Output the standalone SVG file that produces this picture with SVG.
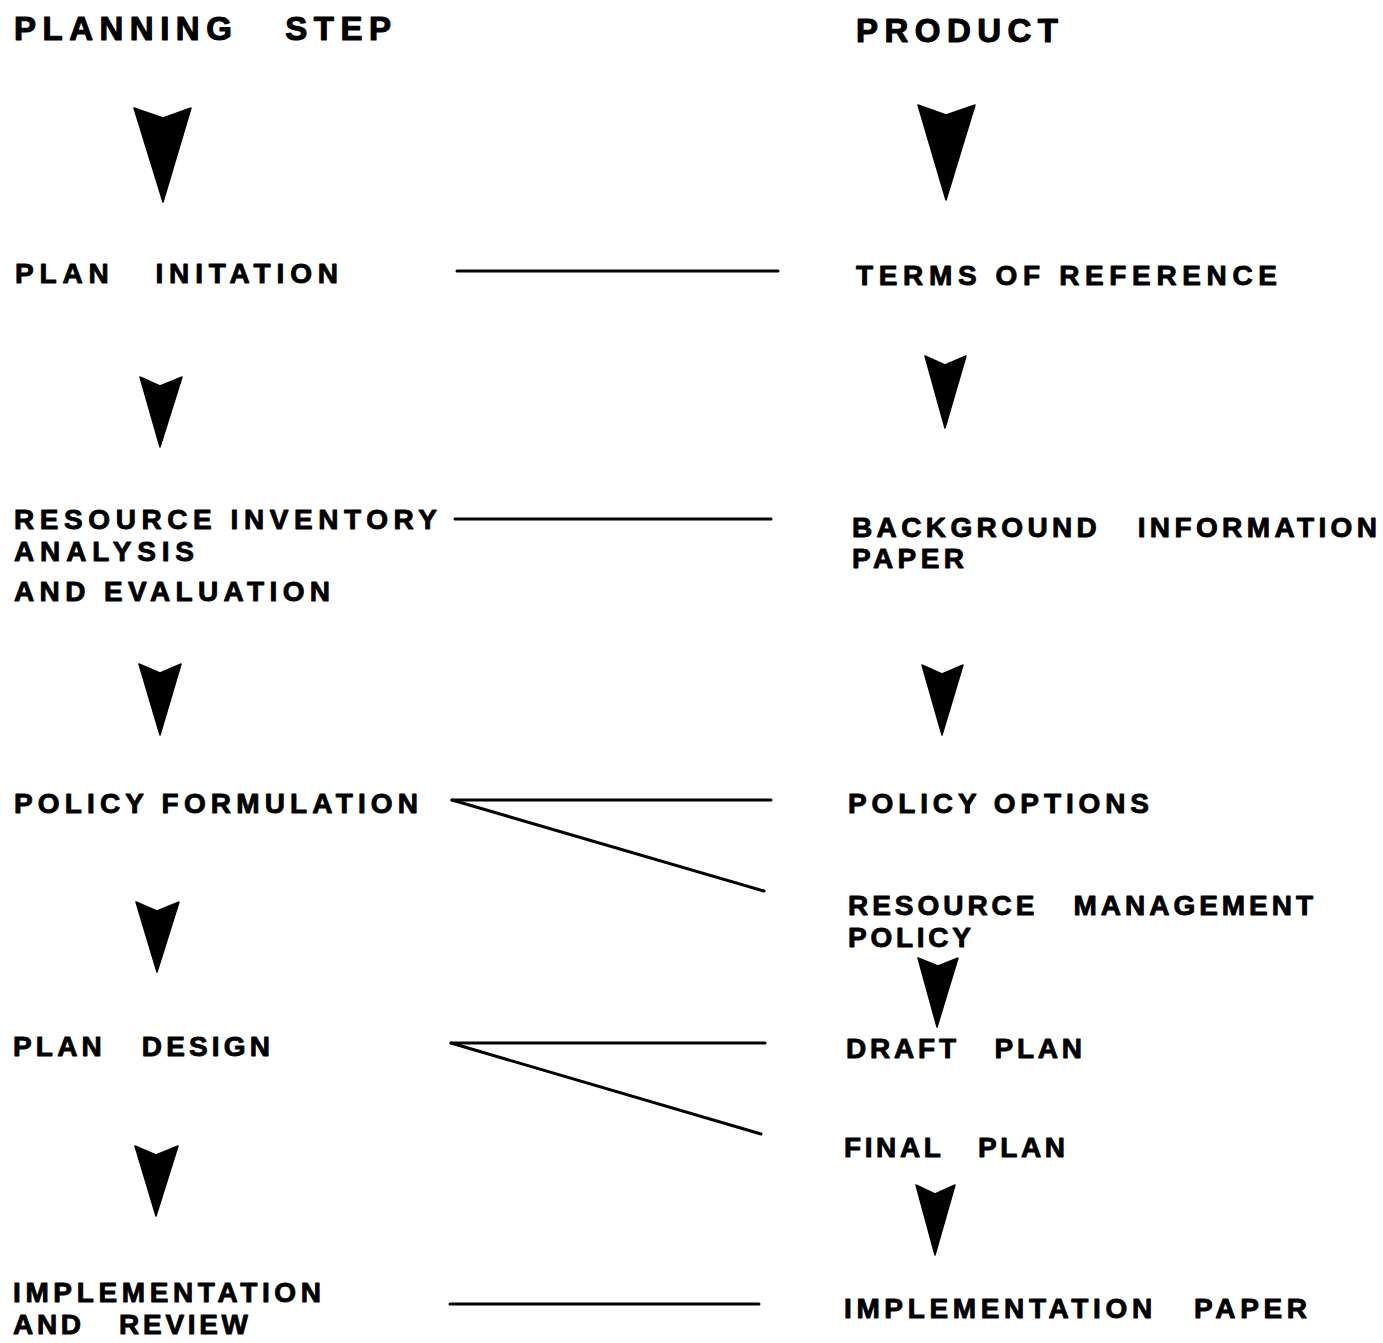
<svg xmlns="http://www.w3.org/2000/svg" width="1383" height="1343" viewBox="0 0 1383 1343">
  <style>
    .t { font-family: "Liberation Sans", Arial, Helvetica, sans-serif; font-weight: bold; font-size: 28px; fill: #000; stroke: #000; stroke-width: 0.9; stroke-linejoin: round; white-space: pre; }
    .h { font-size: 33px; stroke-width: 1.1; }
    .link { stroke: #000; stroke-width: 3; fill: none; stroke-linecap: round; stroke-linejoin: round; }
    .arrow { fill: #000; stroke: #000; stroke-width: 1.5; stroke-linejoin: round; }
  </style>
  <rect width="1383" height="1343" fill="#fff"/>

  <!-- column headings -->
  <g id="head-step"><text class="t h" x="14" y="40" textLength="377" lengthAdjust="spacing">PLANNING   STEP</text></g>
  <g id="head-product"><text class="t h" x="856" y="42" textLength="202" lengthAdjust="spacing">PRODUCT</text></g>

  <!-- planning steps -->
  <g id="step-initiation"><text class="t" x="15" y="283" textLength="323" lengthAdjust="spacing">PLAN   INITATION</text></g>
  <g id="step-inventory">
    <text class="t" x="14" y="529" textLength="423" lengthAdjust="spacing">RESOURCE INVENTORY</text>
    <text class="t" x="14" y="561" textLength="180" lengthAdjust="spacing">ANALYSIS</text>
    <text class="t" x="14" y="601" textLength="316" lengthAdjust="spacing">AND EVALUATION</text>
  </g>
  <g id="step-policy"><text class="t" x="14" y="813" textLength="404" lengthAdjust="spacing">POLICY FORMULATION</text></g>
  <g id="step-design"><text class="t" x="13" y="1056" textLength="257" lengthAdjust="spacing">PLAN   DESIGN</text></g>
  <g id="step-implementation">
    <text class="t" x="13" y="1302" textLength="308" lengthAdjust="spacing">IMPLEMENTATION</text>
    <text class="t" x="13" y="1334" textLength="235" lengthAdjust="spacing">AND   REVIEW</text>
  </g>

  <!-- products -->
  <g id="prod-terms"><text class="t" x="856" y="285" textLength="421" lengthAdjust="spacing">TERMS OF REFERENCE</text></g>
  <g id="prod-background">
    <text class="t" x="852" y="537" textLength="525" lengthAdjust="spacing">BACKGROUND   INFORMATION</text>
    <text class="t" x="852" y="568" textLength="112" lengthAdjust="spacing">PAPER</text>
  </g>
  <g id="prod-options"><text class="t" x="848" y="813" textLength="301" lengthAdjust="spacing">POLICY OPTIONS</text></g>
  <g id="prod-management">
    <text class="t" x="848" y="915" textLength="465" lengthAdjust="spacing">RESOURCE   MANAGEMENT</text>
    <text class="t" x="848" y="947" textLength="123" lengthAdjust="spacing">POLICY</text>
  </g>
  <g id="prod-draft"><text class="t" x="846" y="1058" textLength="236" lengthAdjust="spacing">DRAFT   PLAN</text></g>
  <g id="prod-final"><text class="t" x="844" y="1157" textLength="221" lengthAdjust="spacing">FINAL   PLAN</text></g>
  <g id="prod-implementation"><text class="t" x="844" y="1318" textLength="463" lengthAdjust="spacing">IMPLEMENTATION   PAPER</text></g>

  <!-- flow arrows -->
  <g id="flow-arrows">
    <path class="arrow" d="M134,108 L163,118 L191,108 L163,202 Z"/>
    <path class="arrow" d="M140,377 L160,386 L182,377 L160,447 Z"/>
    <path class="arrow" d="M139,664 L160,673 L181,664 L160,735 Z"/>
    <path class="arrow" d="M136,902 L157,911 L179,902 L157,972 Z"/>
    <path class="arrow" d="M135,1146 L156,1155 L178,1146 L156,1216 Z"/>
    <path class="arrow" d="M918,105 L946,115 L975,105 L946,200 Z"/>
    <path class="arrow" d="M925,356 L945,365 L966,356 L945,428 Z"/>
    <path class="arrow" d="M922,665 L942,674 L963,665 L942,735 Z"/>
    <path class="arrow" d="M918,958 L938,966 L958,958 L937,1027 Z"/>
    <path class="arrow" d="M916,1185 L935,1194 L955,1185 L935,1255 Z"/>
  </g>

  <!-- step-to-product connectors -->
  <g id="connectors">
    <line class="link" x1="457" y1="271" x2="778" y2="271"/>
    <line class="link" x1="455" y1="519" x2="771" y2="519"/>
    <line class="link" x1="452" y1="800" x2="771" y2="800"/>
    <line class="link" x1="452" y1="800" x2="764" y2="891"/>
    <line class="link" x1="451" y1="1043" x2="765" y2="1043"/>
    <line class="link" x1="451" y1="1043" x2="761" y2="1134"/>
    <line class="link" x1="450" y1="1304" x2="759" y2="1304"/>
  </g>
</svg>
